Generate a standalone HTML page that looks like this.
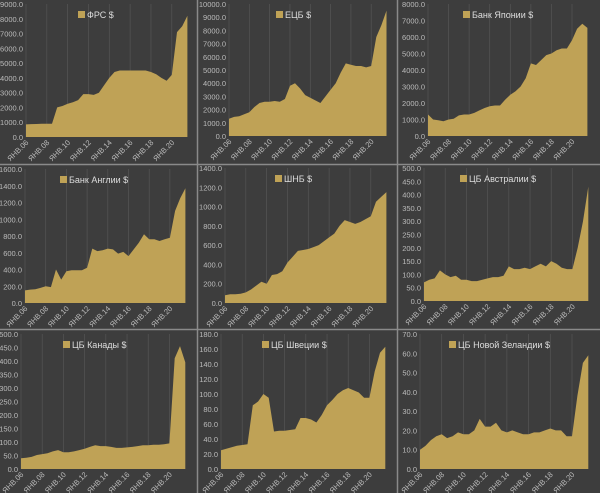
<!DOCTYPE html>
<html><head><meta charset="utf-8">
<style>
html,body{margin:0;padding:0;background:#3d3d3d;}
svg{display:block;font-family:"Liberation Sans",sans-serif;}
</style></head>
<body>
<svg id="chart" width="600" height="493" viewBox="0 0 600 493" xmlns="http://www.w3.org/2000/svg">
<rect x="0" y="0" width="600" height="493" fill="#3d3d3d"/>
</svg>
<script>
const dates = [2006,2006.5,2007,2007.5,2008,2008.5,2009,2009.5,2010,2010.5,2011,2011.5,2012,2012.5,2013,2013.5,2014,2014.5,2015,2015.5,2016,2016.5,2017,2017.5,2018,2018.5,2019,2019.5,2020,2020.5,2021,2021.5];
const xTickYears = [2006,2008,2010,2012,2014,2016,2018,2020];
const xTickLabels = ["ЯНВ.06","ЯНВ.08","ЯНВ.10","ЯНВ.12","ЯНВ.14","ЯНВ.16","ЯНВ.18","ЯНВ.20"];
const titles = ["ФРС $","ЕЦБ $","Банк Японии $","Банк Англии $","ШНБ $","ЦБ Австралии $","ЦБ Канады $","ЦБ Швеции $","ЦБ Новой Зеландии $"];
const yMaxes = [9000,10000,8000,1600,1400,500,500,180,70];
const ySteps = [1000,1000,1000,200,200,50,50,20,10];
const fedValues = [850,870,880,900,900,900,2000,2100,2250,2350,2500,2900,2900,2850,3000,3500,4000,4400,4500,4500,4500,4500,4500,4500,4400,4250,4000,3800,4200,7100,7500,8200];
const ecbValues = [1300,1450,1500,1650,1800,2200,2500,2600,2600,2650,2600,2800,3800,4000,3600,3100,2900,2700,2500,3000,3500,4000,4800,5500,5400,5300,5300,5200,5300,7500,8400,9500];
const bojValues = [1300,1000,950,900,1000,1050,1250,1300,1300,1400,1550,1700,1800,1850,1850,2200,2500,2700,3000,3500,4400,4300,4600,4900,5000,5200,5300,5300,5800,6500,6800,6550];
const boeValues = [150,160,165,180,200,190,400,280,380,390,390,390,420,650,620,630,650,640,590,610,560,640,720,820,760,760,740,760,780,1100,1250,1370];
const snbValues = [80,90,90,95,110,140,180,220,200,290,300,330,420,480,540,550,560,580,600,640,680,720,800,860,840,820,840,870,900,1050,1100,1150];
const rbaValues = [70,80,85,115,100,90,95,80,80,75,75,80,85,90,90,95,130,120,120,125,120,130,140,130,150,140,125,120,120,200,300,430];
const bocValues = [40,42,45,52,55,58,65,70,62,62,65,70,75,82,88,85,85,82,78,78,80,82,85,88,88,90,90,92,95,410,455,395];
const riksValues = [25,27,29,31,32,33,85,90,100,95,50,51,51,52,53,68,68,66,62,72,85,92,100,105,108,105,102,95,95,130,155,163];
const rbnzValues = [10,12,15,17,18,16,17,19,18,18,20,26,22,22,24,20,19,20,19,18,18,19,19,20,21,20,20,17,17,38,55,59];
const seriesValues = [fedValues,ecbValues,bojValues,boeValues,snbValues,rbaValues,bocValues,riksValues,rbnzValues];
const slugs = ["fed","ecb","boj","boe","snb","rba","boc","riksbank","rbnz"];

// layout: [plotLeft, plotRight, plotTop, plotBottom, legendOffset]
const layout = [
 [26,190,4,137,52],[229,389,4,136,47],[428,590,4,136,35],
 [25,188,169,303,35],[225,389,168,303,50],[424,591,168,301,36],
 [21,188,334,469,42],[221,388,334,469,41],[420,591,334,469,29]
];
const X0 = 2006, X1 = 2021.75;
const NS = "http://www.w3.org/2000/svg";
const svg = document.getElementById('chart');
function mk(tag, attrs, parent){const e=document.createElementNS(NS,tag);for(const k in attrs)e.setAttribute(k,attrs[k]);(parent||svg).appendChild(e);return e;}

for(let p=0;p<9;p++){
  const [L,R,T,B,lo]=layout[p];
  const g=mk('g',{});
  
  
  const xs=v=>L+(v-X0)/(X1-X0)*(R-L);
  const ys=v=>B-v/yMaxes[p]*(B-T);
  // vertical gridlines
  xTickYears.forEach((yr,i)=>{
    const gl=mk('line',{x1:xs(yr),x2:xs(yr),y1:T,y2:B,stroke:'#555','stroke-width':0.7},g);
    
    
    const t=mk('text',{x:xs(yr)+3,y:B+6,'font-size':7.5,fill:'#bbbbbb','text-anchor':'end',transform:`rotate(-45 ${xs(yr)+3} ${B+6})`},g);
    t.textContent=xTickLabels[i];
    
    
  });
  // y ticks
  for(let v=0; v<=yMaxes[p]+1e-9; v+=ySteps[p]){
    const t=mk('text',{x:L-3,y:ys(v)+3,'font-size':7.5,fill:'#bbbbbb','text-anchor':'end'},g);
    t.textContent=v.toFixed(1);
    
    
  }
  // area
  const vals=seriesValues[p];
  let d=`M${xs(dates[0])},${B}`;
  vals.forEach((v,i)=>{d+=` L${xs(dates[i]).toFixed(1)},${ys(v).toFixed(1)}`;});
  d+=` L${xs(dates[dates.length-1]).toFixed(1)},${B} Z`;
  const a=mk('path',{d:d,fill:'#bfa256'},g);
  
  
  // legend
  const lg=mk('g',{},g);
  
  
  const ly=T+13;
  mk('rect',{x:L+lo,y:ly-6,width:7,height:7,fill:'#bfa256'},lg);
  const lt=mk('text',{x:L+lo+9,y:ly+1,'font-size':9,fill:'#dddddd'},lg);
  lt.textContent=titles[p];
}
// dividers
[[197.5,0,197.5,493],[397.5,0,397.5,493],[0,164.5,600,164.5],[0,329.5,600,329.5]].forEach(c=>{
  const l=mk('line',{x1:c[0],y1:c[1],x2:c[2],y2:c[3],stroke:'#8a8a8a','stroke-width':1.5});
  
  
});
</script>
</body></html>
